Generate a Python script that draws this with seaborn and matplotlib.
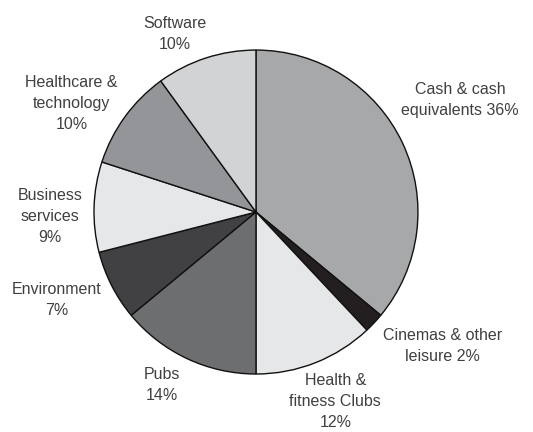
import matplotlib
matplotlib.use("Agg")
import matplotlib.pyplot as plt
import seaborn as sns

# Portfolio split, clockwise from 12 o'clock
categories = ["Cash & cash\nequivalents", "Cinemas & other\nleisure", "Health &\nfitness Clubs",
              "Pubs", "Environment", "Business\nservices", "Healthcare &\ntechnology", "Software"]
shares = [36, 2, 12, 14, 7, 9, 10, 10]
# whether the percentage goes on the same line as the last label line
inline_pct = [True, True, False, False, False, False, False, False]
colors = ["#a7a8aa", "#231f20", "#e6e7e8", "#6d6e70", "#414042", "#e6e7e8", "#939598", "#d1d3d4"]

# label positions in units of the pie radius
label_pos = [(1.26, 0.69), (1.15, -0.83), (0.49, -1.17), (-0.58, -1.07),
             (-1.23, -0.54), (-1.27, -0.03), (-1.14, 0.67), (-0.50, 1.10)]

sns.set_theme(style="white")
plt.rcParams['font.family'] = ['Liberation Sans', 'DejaVu Sans']

fig = plt.figure(figsize=(5.33, 4.32), dpi=100)
ax = fig.add_axes([0, 0, 1, 1])

ax.pie(shares, colors=colors, startangle=90, counterclock=False, radius=1,
       wedgeprops={"edgecolor": "#111111", "linewidth": 1.0})

for name, val, inl, (x, y) in zip(categories, shares, inline_pct, label_pos):
    txt = f"{name} {val}%" if inl else f"{name}\n{val}%"
    ax.text(x, y, txt, ha="center", va="center", fontsize=11.5,
            color="#404040", linespacing=1.5)

ax.set_xlim(-1.58, 1.71)
ax.set_ylim(-1.358, 1.309)
ax.set_aspect("equal")
ax.axis("off")

fig.savefig("out.png", dpi=100, facecolor="white")
